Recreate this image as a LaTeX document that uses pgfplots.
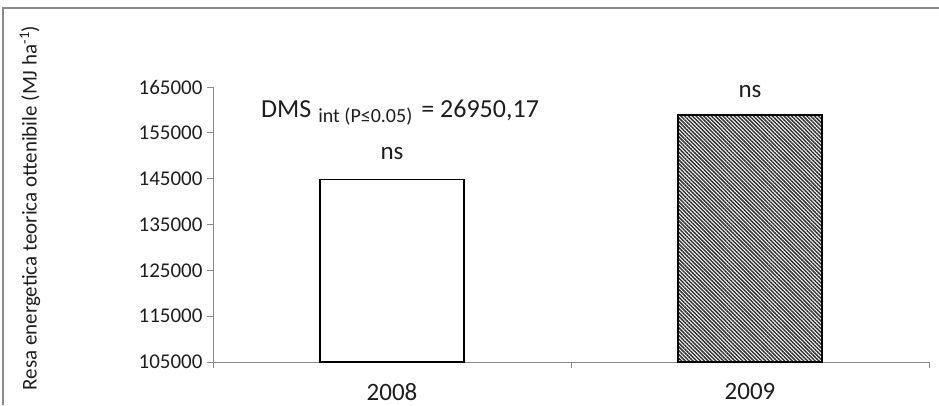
\documentclass[border=0pt]{standalone}
\usepackage{pgfplots}
\pgfplotsset{compat=1.18}
\usepackage{fontspec}
\setmainfont{Carlito}
\usetikzlibrary{patterns.meta}
\definecolor{axisgray}{HTML}{8A8A8A}
\definecolor{txt}{HTML}{1E1E1E}

\begin{document}
\begin{tikzpicture}[x=1pt,y=1pt]
\useasboundingbox (0pt,0pt) rectangle (939pt,405pt);
% outer frame (only left and top edges are visible)
\draw[axisgray, line width=2pt] (3pt,0pt) -- (3pt,397pt) -- (939pt,397pt);
\begin{axis}[
  at={(213pt,43pt)},
  anchor=south west,
  scale only axis,
  width=716pt,
  height=275pt,
  xmin=-0.5, xmax=1.5,
  ymin=105000, ymax=165000,
  axis x line=bottom,
  axis y line=left,
  axis line style={axisgray, line width=1pt, -},
  ytick={105000,115000,...,165000},
  scaled y ticks=false,
  /pgf/number format/fixed,
  /pgf/number format/1000 sep={},
  /pgf/number format/assume math mode=true,
  xtick={-0.5,0.5,1.5},
  xticklabels={},
  x tick style={axisgray, line width=1pt},
  extra x ticks={0,1},
  extra x tick labels={2008,2009},
  extra x tick style={major tick length=0pt, tick style={draw=none}},
  y tick style={axisgray, line width=1pt},
  tick align=outside,
  major tick length=6pt,
  yticklabel style={font=\fontsize{21}{22}\selectfont, text=txt, xshift=-1pt},
  xticklabel style={font=\fontsize{25}{26}\selectfont, text=txt, yshift=-17.5pt},
  clip=false,
]
  \addplot[ybar, bar width=0.402, draw=black, line width=1.2pt, fill=white]
    coordinates {(0,144900)};
  \addplot[ybar, bar width=0.402, draw=black, line width=1.2pt,
    fill=white, postaction={pattern={Lines[angle=-45,distance=2.7pt,line width=1.5pt]}, pattern color=black!80}]
    coordinates {(1,158900)};
  \node[font=\fontsize{25}{26}\selectfont, text=txt, anchor=base, inner sep=0pt] at (axis cs:0,149100) {ns};
  \node[font=\fontsize{25}{26}\selectfont, text=txt, anchor=base, inner sep=0pt] at (axis cs:1,162800) {ns};
  \node[font=\fontsize{26}{28}\selectfont, text=txt, anchor=base west, inner sep=0pt] at (axis cs:-0.366,158240)
    {DMS\hspace{7pt}{\fontsize{20}{22}\selectfont\raisebox{-5pt}{int (P≤0.05)}}\hspace{9pt}= 26950,17};
\end{axis}
\node[rotate=90, font=\fontsize{21}{22}\selectfont, text=txt] at (30pt,197pt)
  {Resa energetica teorica ottenibile (MJ ha\textsuperscript{-1})};
\end{tikzpicture}
\end{document}
